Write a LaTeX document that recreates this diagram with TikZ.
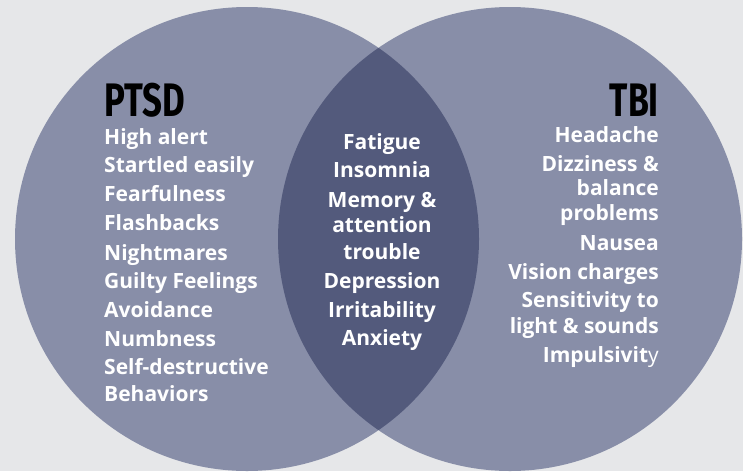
\documentclass[tikz,border=0pt]{standalone}
\usepackage{fontspec}
\setmainfont{Open Sans}
\newfontfamily\headfont{Fira Sans}
\definecolor{bgc}{HTML}{E6E7E9}
\definecolor{lightc}{HTML}{888EA8}
\definecolor{darkc}{HTML}{535A7C}
\begin{document}
\begin{tikzpicture}[x=1pt,y=-1pt,
  item/.style={text=white,font=\bfseries\fontsize{21}{21}\selectfont,inner sep=0pt},
  lefti/.style={item,anchor=base west},
  midi/.style={item,anchor=base},
  righti/.style={item,anchor=base east},
  head/.style={text=black,font=\headfont\bfseries\fontsize{47}{47}\selectfont,inner sep=0pt}]
\useasboundingbox (0,0) rectangle (743,471);
\fill[bgc] (0,0) rectangle (743,471);
\fill[lightc] (247,239) circle (232);
\fill[lightc] (510,239) circle (232);
\begin{scope}
  \clip (247,239) circle (232);
  \fill[darkc] (510,239) circle (232);
\end{scope}
% headings
\node[head,anchor=base west] (ptsd) at (104,116) {\scalebox{0.74}[1]{PTSD}};
\node[head,anchor=base east] (tbi) at (659,116) {\scalebox{0.72}[1]{TBI}};
% left
\node[lefti] (l1) at (104,144) {High alert};
\node[lefti] (l2) at (104,172) {Startled easily};
\node[lefti] (l3) at (104,201) {Fearfulness};
\node[lefti] (l4) at (104,230) {Flashbacks};
\node[lefti] (l5) at (104,260) {Nightmares};
\node[lefti] (l6) at (104,288) {Guilty Feelings};
\node[lefti] (l7) at (104,317) {Avoidance};
\node[lefti] (l8) at (104,346) {Numbness};
\node[lefti] (l9) at (104,374) {Self-destructive};
\node[lefti] (l10) at (104,401) {Behaviors};
% middle
\node[midi] (m1) at (382,149) {Fatigue};
\node[midi] (m2) at (382,177) {Insomnia};
\node[midi] (m3) at (382,207) {Memory \&};
\node[midi] (m4) at (382,232) {attention};
\node[midi] (m5) at (382,259) {trouble};
\node[midi] (m6) at (382,288) {Depression};
\node[midi] (m7) at (382,317) {Irritability};
\node[midi] (m8) at (382,345) {Anxiety};
% right
\node[righti] (r1) at (659,142) {Headache};
\node[righti] (r2) at (659,171) {Dizziness \&};
\node[righti] (r3) at (659,195) {balance};
\node[righti] (r4) at (659,220) {problems};
\node[righti] (r5) at (659,250) {Nausea};
\node[righti] (r6) at (659,279) {Vision charges};
\node[righti] (r7) at (659,307) {Sensitivity to};
\node[righti] (r8) at (659,333) {light \& sounds};
\node[righti] (r9) at (659,362) {Impulsivit{\mdseries y}};
\end{tikzpicture}
\end{document}
